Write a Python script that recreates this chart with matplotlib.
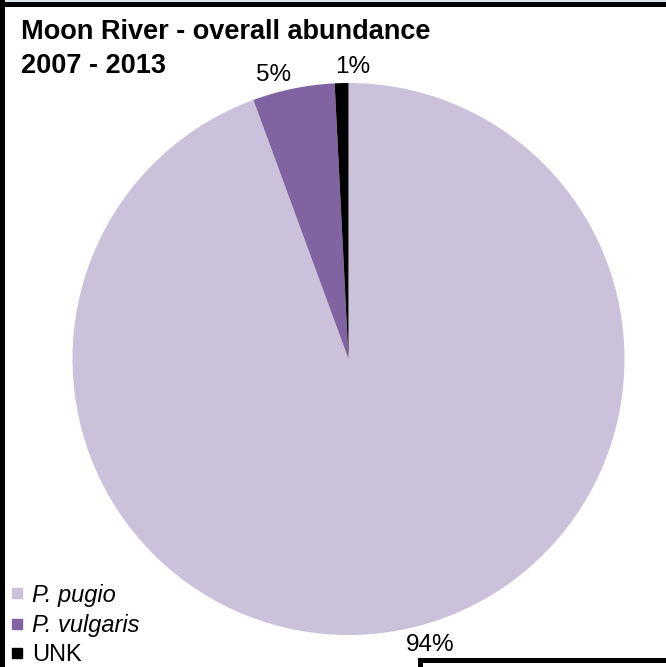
import matplotlib
matplotlib.use("Agg")
import matplotlib.pyplot as plt
from matplotlib.patches import Rectangle
from matplotlib.lines import Line2D

plt.rcParams['font.family'] = ['Liberation Sans', 'DejaVu Sans']

# Species share of total catch (percent)
species = ["P. pugio", "P. vulgaris", "UNK"]
share = [94.4, 4.8, 0.8]
colors = ["#CBC1DB", "#8064A2", "#000000"]
italic = [True, True, False]

W, H = 666, 667
fig = plt.figure(figsize=(W / 100, H / 100), dpi=100)
fig.patch.set_facecolor("white")

def px_rect(x, y_top, w, h, color):
    """Rectangle given in pixel units measured from the top-left corner."""
    fig.patches.append(Rectangle((x / W, 1 - (y_top + h) / H), w / W, h / H,
                                 transform=fig.transFigure, facecolor=color,
                                 edgecolor="none", zorder=5))

# frame pieces
px_rect(0, 0, W, 2, "#DCE6F0")
px_rect(0, 2, W, 5, "black")
px_rect(0, 0, 5, H, "black")
px_rect(418, 658, W - 418, 5, "black")
px_rect(418, 658, 5, H - 658, "black")

# pie axes: centre (348.5, 359) px, radius 276 px
cx, cy, R, half = 348.5, 359, 276, 300
ax = fig.add_axes([(cx - half) / W, (H - cy - half) / H, 2 * half / W, 2 * half / H])
lim = half / R

wedges, _, autotexts = ax.pie(share, colors=colors, startangle=90, counterclock=False,
                              radius=1.0, autopct="%.0f%%", pctdistance=1.08,
                              wedgeprops=dict(linewidth=0),
                              textprops=dict(fontsize=17.5, color="black"))
ax.set_xlim(-lim, lim)
ax.set_ylim(-lim, lim)
ax.axis("off")
label_pos = [(0.295, -1.036), (-0.27, 1.029), (0.016, 1.058)]
for t, (lx, ly) in zip(autotexts, label_pos):
    t.set_position((lx, ly))
    t.set_ha("center")
    t.set_va("center")

# title
fig.text(21 / W, 1 - 32 / H, "Moon River - overall abundance", fontsize=19.5,
         fontweight="bold", ha="left", va="center")
fig.text(21 / W, 1 - 66 / H, "2007 - 2013", fontsize=19.5,
         fontweight="bold", ha="left", va="center")

# legend
handles = [Line2D([], [], linestyle="none", marker="s", markersize=7.0,
                  markerfacecolor=c, markeredgecolor=c) for c in colors]
leg = fig.legend(handles, species, loc="center left",
                 bbox_to_anchor=(10 / W, 1 - 625 / H), frameon=False,
                 fontsize=17, handlelength=0.6, handletextpad=0.35,
                 labelspacing=0.31, borderpad=0, borderaxespad=0)
for t, it in zip(leg.get_texts(), italic):
    if it:
        t.set_style("italic")

fig.savefig("out.png", dpi=100)
